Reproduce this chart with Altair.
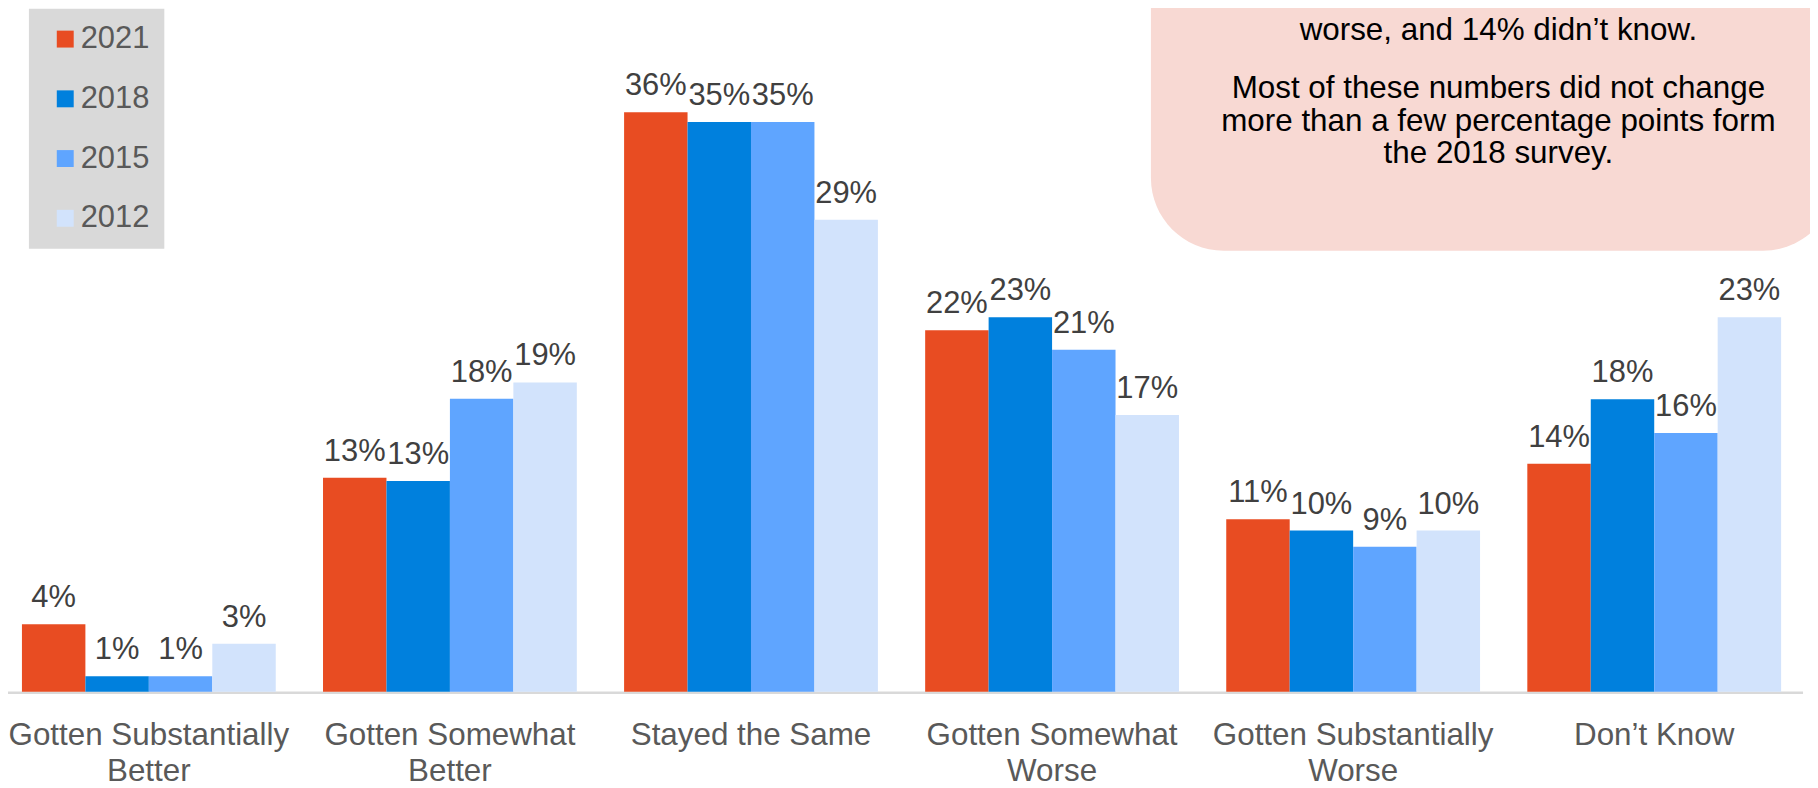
import altair as alt
import pandas as pd

categories = ["Gotten Substantially Better", "Gotten Somewhat Better", "Stayed the Same",
              "Gotten Somewhat Worse", "Gotten Substantially Worse", "Don’t Know"]
years = ["2021", "2018", "2015", "2012"]
v2021 = [4.15, 13.15, 35.6, 22.2, 10.6, 14.0]
v2018 = [0.95, 12.95, 35.0, 23.0, 9.9, 17.96]
v2015 = [0.95, 18.0, 35.0, 21.0, 8.9, 15.9]
v2012 = [2.94, 19.0, 29.0, 17.0, 9.9, 23.0]
colors = ["#E84C22", "#0080DD", "#5FA5FF", "#D2E3FC"]
note_p1 = ["worse, and 14% didn’t know."]
note_p2 = ["Most of these numbers did not change",
           "more than a few percentage points form",
           "the 2018 survey."]

rows = []
for yr, vals in zip(years, [v2021, v2018, v2015, v2012]):
    for c, v in zip(categories, vals):
        rows.append({"category": c, "year": yr, "value": v, "label": f"{round(v)}%"})
df = pd.DataFrame(rows)

FONT = "Liberation Sans"
H = 685
x_enc = alt.X("category:N", sort=categories,
              scale=alt.Scale(paddingInner=0.157, paddingOuter=0.0463),
              axis=alt.Axis(title=None, labelAngle=0, ticks=False, tickSize=0, domain=False,
                            labelFontSize=31.5, labelColor="#595959", labelFont=FONT,
                            labelLineHeight=36, labelPadding=28, labelLimit=0,
                            labelExpr="indexof(datum.value,'Gotten')==0 ? [substring(datum.value,0,lastindexof(datum.value,' ')), substring(datum.value,lastindexof(datum.value,' ')+1)] : datum.value"))
y_enc = alt.Y("value:Q", scale=alt.Scale(domain=[0, H / 16.35], nice=False), axis=None)
xo = alt.XOffset("year:N", sort=years, scale=alt.Scale(paddingInner=0, paddingOuter=0))

base = alt.Chart(df)

box = alt.Chart(pd.DataFrame({"a": [0]})).mark_rect(
    fill="#F8D9D3", cornerRadius=73
).encode(x=alt.value(1148), x2=alt.value(1836), y=alt.value(-150), y2=alt.value(242))

baseline = alt.Chart(pd.DataFrame({"a": [0]})).mark_rule(
    color="#D9D9D9", strokeWidth=2.5
).encode(x=alt.value(0), x2=alt.value(1803), y=alt.value(H + 1))

bars = base.mark_bar().encode(
    x=x_enc, xOffset=xo, y=y_enc,
    color=alt.Color("year:N", sort=years,
                    scale=alt.Scale(domain=years, range=colors),
                    legend=alt.Legend(title=None, orient="none", legendX=21, legendY=-1,
                                      fillColor="#D9D9D9", padding=15, symbolOffset=6,
                                      symbolType="square", symbolSize=289, symbolStrokeWidth=0,
                                      labelFontSize=31, labelFont=FONT, labelColor="#595959",
                                      labelOffset=0, rowPadding=28))
)

labels = base.mark_text(baseline="middle", dy=-26, fontSize=31, font=FONT, color="#404040").encode(
    x=x_enc, xOffset=xo, y=y_enc, text="label:N"
)

t1 = alt.Chart(pd.DataFrame({"t": [note_p1]})).mark_text(
    align="center", baseline="alphabetic", fontSize=31.5, font=FONT, color="#000000", lineHeight=32.5
).encode(x=alt.value(1497), y=alt.value(30), text="t")

t2 = alt.Chart(pd.DataFrame({"t": [note_p2]})).mark_text(
    align="center", baseline="alphabetic", fontSize=31.5, font=FONT, color="#000000", lineHeight=32.5
).encode(x=alt.value(1497), y=alt.value(89), text="t")

chart = alt.layer(box, baseline, bars, labels, t1, t2).properties(
    width=1795, height=H,
    autosize=alt.AutoSizeParams(type="none"),
    padding={"left": 0, "top": 0, "right": 15, "bottom": 95}
).configure_view(stroke=None)

chart.save("out.html", embed_options={"renderer": "svg", "actions": False})
